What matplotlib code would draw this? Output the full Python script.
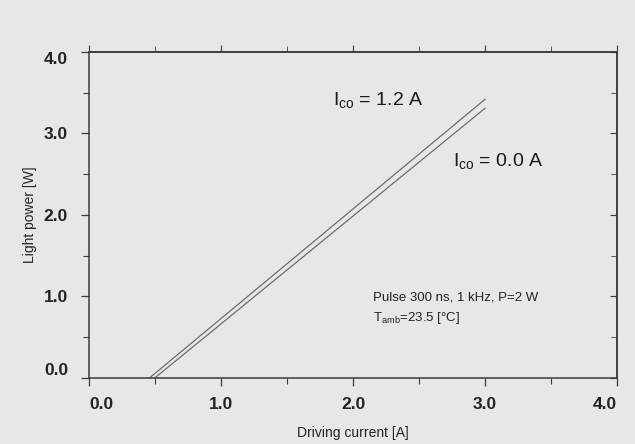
import numpy as np
import matplotlib
matplotlib.use("Agg")
import matplotlib.pyplot as plt
from matplotlib.ticker import MultipleLocator

plt.rcParams['font.family'] = ['Liberation Sans', 'DejaVu Sans']
plt.rcParams['mathtext.fontset'] = 'custom'
plt.rcParams['mathtext.rm'] = 'Liberation Sans'

# threshold and end points of the two P-I curves
current_co12 = [0.46, 3.0]
power_co12 = [0.0, 3.42]
current_co00 = [0.50, 3.0]
power_co00 = [0.0, 3.31]

xticks = [0.0, 1.0, 2.0, 3.0, 4.0]
yticks = [0.0, 1.0, 2.0, 3.0, 4.0]
bg = '#e7e7e5'
ink = '#3a3a3a'

fig = plt.figure(figsize=(6.35, 4.44), dpi=100, facecolor=bg)
ax = fig.add_axes([0.140, 0.149, 0.832, 0.734], facecolor=bg)

ax.plot(current_co12, power_co12, color='#666666', lw=0.85)
ax.plot(current_co00, power_co00, color='#666666', lw=0.85)

ax.set_xlim(0, 4)
ax.set_ylim(0, 4)
ax.set_xticks(xticks)
ax.set_yticks(yticks)
ax.set_xticklabels(['%.1f' % v for v in xticks])
ax.set_yticklabels(['%.1f' % v for v in yticks])
ax.xaxis.set_minor_locator(MultipleLocator(0.5))
ax.yaxis.set_minor_locator(MultipleLocator(0.5))
ax.tick_params(axis='both', which='major', direction='out', length=6, width=0.9,
               color=ink, labelsize=12.5, labelcolor='#222222')
ax.tick_params(axis='both', which='minor', direction='out', length=4, width=0.8, color=ink)
ax.tick_params(axis='x', pad=8)
ax.tick_params(axis='y', pad=9)
for lab in ax.get_xticklabels() + ax.get_yticklabels():
    lab.set_fontweight('bold')
xl = ax.get_xticklabels()
xl[0].set_ha('left')
xl[-1].set_ha('right')
yl = ax.get_yticklabels()
yl[0].set_va('bottom')
yl[-1].set_va('top')

# ticks on top (outward) and right (inward)
top = ax.secondary_xaxis('top')
top.set_xticks(xticks)
top.xaxis.set_minor_locator(MultipleLocator(0.5))
top.tick_params(which='major', direction='out', length=5, color=ink, labeltop=False)
top.tick_params(which='minor', direction='out', length=4, color=ink)
right = ax.secondary_yaxis('right')
right.set_yticks(yticks)
right.yaxis.set_minor_locator(MultipleLocator(0.5))
right.tick_params(which='major', direction='in', length=5, color=ink, labelright=False)
right.tick_params(which='minor', direction='in', length=4, color=ink)

for s in list(ax.spines.values()) + [top.spines['top'], right.spines['right']]:
    s.set_color(ink)
    s.set_linewidth(1.1)

ax.set_xlabel('Driving current [A]', fontsize=10, color='#222222', labelpad=10)
ax.set_ylabel('Light power [W]', fontsize=10, color='#222222', labelpad=5)

ax.text(1.85, 3.4, r'I$_{\mathrm{co}}$ = 1.2 A', fontsize=14, color='#1a1a1a',
        va='center', ha='left')
ax.text(2.76, 2.65, r'I$_{\mathrm{co}}$ = 0.0 A', fontsize=14, color='#1a1a1a',
        va='center', ha='left')
ax.text(2.15, 0.99, 'Pulse 300 ns, 1 kHz, P=2 W', fontsize=9.5, color='#222222',
        va='center', ha='left')
ax.text(2.15, 0.73, r'T$_{\mathrm{amb}}$=23.5 [°C]', fontsize=9.5, color='#222222',
        va='center', ha='left')

fig.savefig('out.png', dpi=100, facecolor=bg)
